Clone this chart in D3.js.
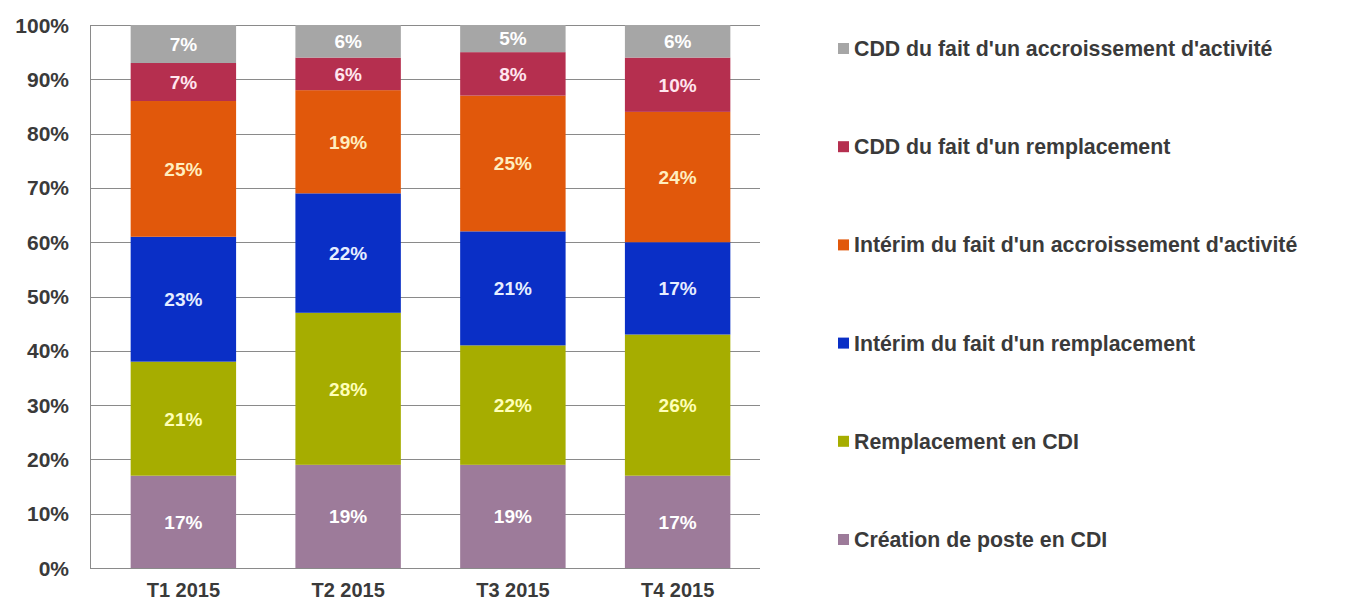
<!DOCTYPE html>
<html>
<head>
<meta charset="utf-8">
<script src="https://cdn.jsdelivr.net/npm/d3@7"></script>
<style>
  body { margin: 0; background: #fff; }
  text { font-family: "Liberation Sans", Arial, sans-serif; font-weight: bold; }
</style>
</head>
<body>
<div id="chart"></div>
<script>
// data (percent of each quarter)
const quarters = ["T1 2015", "T2 2015", "T3 2015", "T4 2015"];
const seriesNames = [
  "Création de poste en CDI",
  "Remplacement en CDI",
  "Intérim du fait d'un remplacement",
  "Intérim du fait d'un accroissement d'activité",
  "CDD du fait d'un remplacement",
  "CDD du fait d'un accroissement d'activité"
];
const creationCDI = [17, 19, 19, 17];
const remplacementCDI = [21, 28, 22, 26];
const interimRemplacement = [23, 22, 21, 17];
const interimAccroissement = [25, 19, 25, 24];
const cddRemplacement = [7, 6, 8, 10];
const cddAccroissement = [7, 6, 5, 6];
const yTicks = [0, 10, 20, 30, 40, 50, 60, 70, 80, 90, 100];

const colors = ["#9d7b9a", "#a6ad00", "#0a2fc6", "#e1580b", "#b52f4f", "#a6a6a6"];
const labelColors = ["#ffffff", "#ffffb8", "#e6eeff", "#ffeebf", "#ffe6ee", "#ffffff"];

const width = 1356, height = 602;
const svg = d3.select("#chart").append("svg")
  .attr("width", width)
  .attr("height", height);

const rows = quarters.map((q, i) => ({
  quarter: q,
  s0: creationCDI[i], s1: remplacementCDI[i], s2: interimRemplacement[i],
  s3: interimAccroissement[i], s4: cddRemplacement[i], s5: cddAccroissement[i]
}));
const keys = ["s0", "s1", "s2", "s3", "s4", "s5"];
const stacked = d3.stack().keys(keys)(rows);

const plotLeft = 90, plotRight = 760;
const y = d3.scaleLinear().domain([0, 100]).range([568, 25]);
const x = d3.scaleBand()
  .domain(quarters)
  .range([101, 760])
  .paddingInner(0.36)
  .paddingOuter(0.18);

// gridlines
svg.append("g")
  .selectAll("line")
  .data(yTicks)
  .enter().append("line")
    .attr("x1", plotLeft)
    .attr("x2", plotRight)
    .attr("y1", d => Math.round(y(d)) + 0.5)
    .attr("y2", d => Math.round(y(d)) + 0.5)
    .style("stroke", "#8a8a8a")
    .style("stroke-width", 1);

// left axis line
svg.append("line")
  .attr("x1", plotLeft + 0.5).attr("x2", plotLeft + 0.5)
  .attr("y1", y(100)).attr("y2", y(0))
  .style("stroke", "#8a8a8a");

// y tick labels
svg.append("g")
  .selectAll("text")
  .data(yTicks)
  .enter().append("text")
    .attr("x", 69)
    .attr("y", d => y(d))
    .attr("dy", "0.36em")
    .attr("text-anchor", "end")
    .attr("fill", "#3a3a3a")
    .style("font-size", "21px")
    .text(d => d + "%");

// bars
const layers = svg.append("g")
  .selectAll("g")
  .data(stacked)
  .enter().append("g")
    .attr("fill", (d, i) => colors[i]);

layers.selectAll("rect")
  .data(d => d)
  .enter().append("rect")
    .attr("x", d => x(d.data.quarter))
    .attr("width", x.bandwidth())
    .attr("y", d => y(d[1]))
    .attr("height", d => y(d[0]) - y(d[1]));

// value labels
layers.each(function(layer, i) {
  d3.select(this).selectAll("text")
    .data(layer)
    .enter().append("text")
      .attr("x", d => x(d.data.quarter) + x.bandwidth() / 2)
      .attr("y", d => y((d[0] + d[1]) / 2))
      .attr("dy", "0.36em")
      .attr("text-anchor", "middle")
      .attr("fill", labelColors[i])
      .style("font-size", "19px")
      .text(d => (d[1] - d[0]) + "%");
});

// x labels (kept just inside the bottom edge)
svg.append("g")
  .selectAll("text")
  .data(quarters)
  .enter().append("text")
    .attr("x", d => x(d) + x.bandwidth() / 2)
    .attr("y", 597)
    .attr("text-anchor", "middle")
    .attr("fill", "#3a3a3a")
    .style("font-size", "20px")
    .text(d => d);

// legend, top entry is the top of the stack
const legend = svg.append("g")
  .selectAll("g")
  .data(seriesNames.map((n, i) => ({ name: n, color: colors[i] })).reverse())
  .enter().append("g")
    .attr("transform", (d, i) => `translate(838, ${56 + i * 98.2})`);

legend.append("rect")
  .attr("y", -13)
  .attr("width", 11)
  .attr("height", 11)
  .attr("fill", d => d.color);

legend.append("text")
  .attr("x", 16)
  .attr("fill", "#3a3a3a")
  .style("font-size", "21.3px")
  .text(d => d.name);
</script>
</body>
</html>
